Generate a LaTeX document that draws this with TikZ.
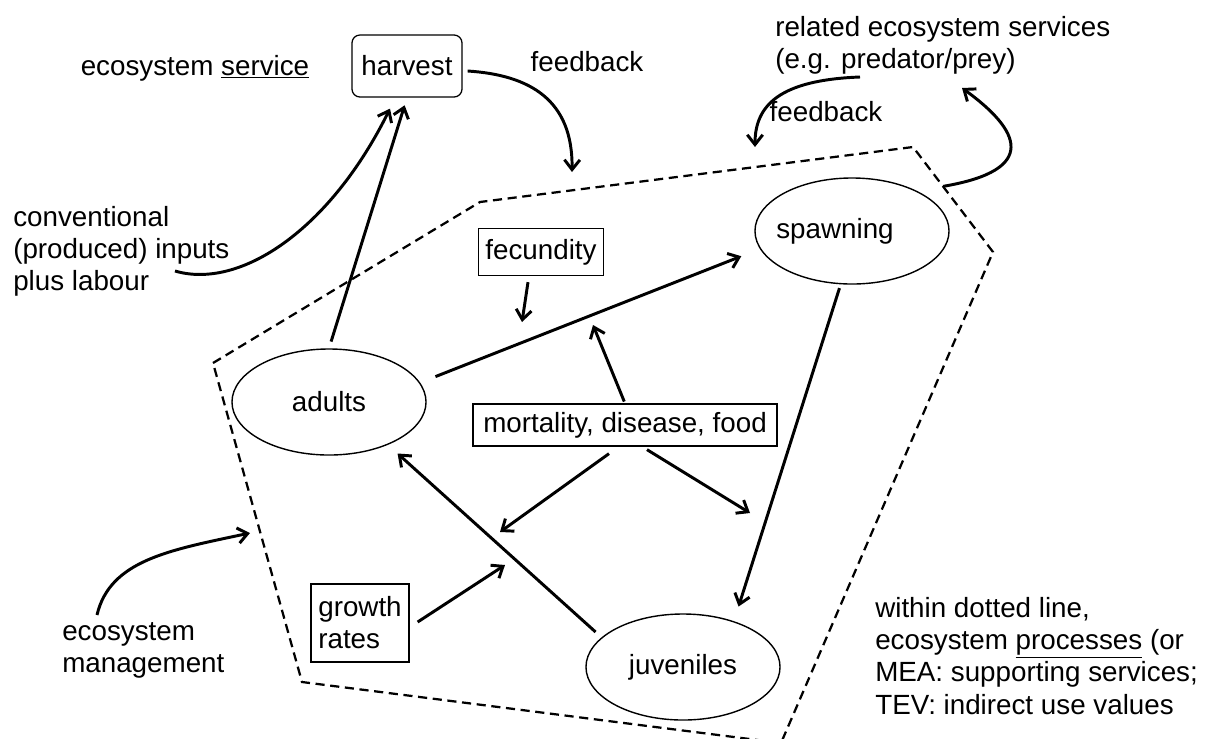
\documentclass[tikz,border=0pt]{standalone}
\usepackage{fontspec}
\setmainfont{Liberation Sans}
\usetikzlibrary{arrows.meta,calc,shapes.geometric}

\begin{document}
\begin{tikzpicture}[x=0.025cm,y=-0.025cm,>={Straight Barb[length=7pt,width=11pt]},
  font=\fontsize{19.75}{22.8}\selectfont,
  stage node/.style={ellipse,draw,line width=1pt,minimum width=4.85cm,minimum height=2.65cm,inner sep=0pt},
  factor node/.style={rectangle,draw,line width=0.9pt,inner sep=3pt},
  note node/.style={inner sep=0pt,align=left},
  flow/.style={->,line width=2.1pt},
  boundary/.style={dash pattern=on 6.5pt off 4pt,line width=1.6pt}]

  \path[use as bounding box,clip] (0,0) rectangle (1207,738);

  % dotted line round the ecosystem processes
  \coordinate (b1) at (213,363);
  \coordinate (b2) at (480,202);
  \coordinate (b3) at (913,147);
  \coordinate (b4) at (993,252);
  \coordinate (b5) at (781,743);
  \coordinate (b6) at (302,682);
  \draw[boundary] (b1) -- (b2) -- (b3) -- (b4) -- (b5) -- (b6) -- cycle;

  % life cycle
  \node[stage node] (adults)    at (329,402) {adults};
  \node[stage node] (spawning)  at (852,231) {\hspace*{-0.85cm}spawning};
  \node[stage node] (juveniles) at (683,667) {juveniles};

  \node[factor node,rounded corners=0.2cm,minimum width=2.75cm,minimum height=1.55cm] (harvest) at (407,66) {harvest};
  \node[factor node,minimum width=3.125cm,minimum height=1.175cm] (fecundity) at (541,252) {fecundity};
  \node[factor node,minimum width=7.6cm,minimum height=1.05cm] (mortality) at (625,425) {mortality, disease, food};
  \node[factor node,align=left,minimum width=2.45cm,minimum height=1.95cm] (growth) at (360,623) {growth\\rates};

  % notes
  \node[note node] (service) at (195,68) {ecosystem \underline{service}};
  \node[note node] (feedback1) at (587,62) {feedback};
  \node[note node,anchor=west] (related) at (775,45) {related ecosystem services\\(e.g. predator/prey)};
  \node[note node] (feedback2) at (826,112) {feedback};
  \node[note node,anchor=west] (inputs) at (13,251) {conventional\\(produced) inputs\\plus labour};
  \node[note node,anchor=west] (management) at (62,650) {ecosystem\\management};
  \node[note node,anchor=west] (processes) at (875,656) {within dotted line,\\ecosystem \underline{processes} (or\\MEA: supporting services;\\TEV: indirect use values};

  % free ends
  \coordinate (inputs-tail) at (175,271);
  \coordinate (fb1-head) at (572,172);
  \coordinate (fb2-tail) at (860,77);
  \coordinate (fb2-head) at (755,147);
  \coordinate (related-tail) at ($(b3)!0.375!(b4)$);
  \coordinate (related-head) at (962,88);
  \coordinate (management-tail) at (97,615);
  \coordinate (management-head) at (250,533);
  \coordinate (fecundity-head) at (522,322);
  \coordinate (mortality-up) at (593,325);
  \coordinate (mortality-left) at (500,532);
  \coordinate (mortality-right) at (750,513);
  \coordinate (growth-head) at (505,565);

  \draw[flow] (inputs-tail) .. controls (240,290) and (330,230) .. ($(harvest.south)+(-17,11)$);
  \draw[flow,shorten <=5pt,shorten >=5.7pt] (adults.north) -- (harvest.south);
  \draw[flow] ($(harvest.east)+(5,5)$) .. controls (530,75) and (573,100) .. (fb1-head);
  \draw[flow] (fb2-tail) .. controls (780,80) and (755,105) .. (fb2-head);
  \draw[flow] (related-tail) .. controls (1040,170) and (1020,130) .. (related-head);
  \draw[flow] (management-tail) .. controls (110,560) and (170,550) .. (management-head);

  \draw[flow] ($(fecundity.south)+(-13,6)$) -- (fecundity-head);
  \draw[flow,shorten <=11.7pt,shorten >=14.2pt] (adults.12) -- (spawning.191);
  \draw[flow,shorten <=1.4pt] (mortality.north) -- (mortality-up);
  \draw[flow] ($(mortality.south)+(-16,7)$) -- (mortality-left);
  \draw[flow] ($(mortality.south)+(22,3)$) -- (mortality-right);
  \draw[flow,shorten <=2.8pt,shorten >=10.9pt] (spawning.258) -- (juveniles.42);
  \draw[flow,shorten <=5.7pt,shorten >=9.2pt] (juveniles.160) -- (adults.324);
  \draw[flow] ($(growth.east)+(8,-1)$) -- (growth-head);
\end{tikzpicture}
\end{document}
